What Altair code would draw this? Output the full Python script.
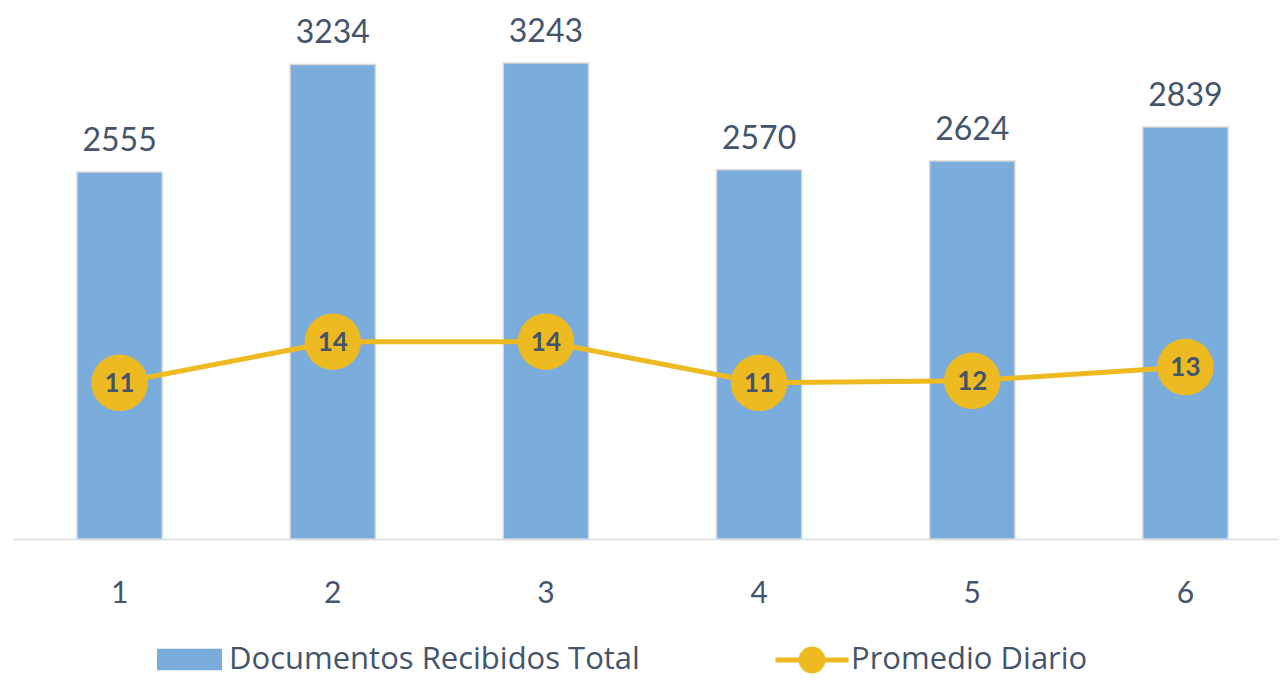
import altair as alt
import pandas as pd

# ---- data ----
meses = [1, 2, 3, 4, 5, 6]
documentos = [2555, 3234, 3243, 2570, 2624, 2839]
promedio = [11.4, 14.4, 14.4, 11.4, 11.55, 12.55]

SERIE_BAR = "Documentos Recibidos Total"
SERIE_LINE = "Promedio Diario"

BLUE = "#7AADDC"
GOLD = "#EEBA22"
TEXT = "#44546A"
FONT = "Lato"
LEG_FONT = "Open Sans"

df = pd.DataFrame({
    "mes": meses,
    "docs": documentos,
    "prom": promedio,
    "s1": [SERIE_BAR] * len(meses),
    "s2": [SERIE_LINE] * len(meses),
})

x = alt.X(
    "mes:O",
    scale=alt.Scale(type="band", paddingInner=0.6, paddingOuter=0.3, range=[0, 1279]),
    axis=alt.Axis(
        title=None, labelAngle=0, ticks=False, grid=False,
        domainColor="#D6DCE4", domainWidth=1.5,
        labelFont=FONT, labelFontSize=30, labelColor=TEXT, labelPadding=39,
    ),
)

y_bar = alt.Y("docs:Q", scale=alt.Scale(domain=[240, 3590], zero=False), axis=None)
y_line = alt.Y("prom:Q", scale=alt.Scale(domain=[0, 38.76], zero=False), axis=None)

bars = alt.Chart(df).mark_bar(stroke="#D9D9D9", strokeWidth=1.5).encode(
    x=x,
    y=y_bar,
    y2=alt.Y2Datum(240),
    fill=alt.Fill(
        "s1:N",
        scale=alt.Scale(domain=[SERIE_BAR], range=[BLUE]),
        legend=alt.Legend(
            title=None, orient="none", legendX=144, legendY=619,
            symbolType="M-1,-0.33L1,-0.33L1,0.33L-1,0.33Z",
            symbolSize=4225, symbolStrokeWidth=0, symbolOpacity=1,
            labelFont=LEG_FONT, labelFontSize=31, labelColor=TEXT, labelLimit=0,
            labelOffset=7, padding=0,
        ),
    ),
)

bar_text = alt.Chart(df).mark_text(
    font=FONT, fontSize=32, color=TEXT, baseline="alphabetic", dy=-21
).encode(x=x, y=y_bar, text=alt.Text("docs:Q", format="d"))

line = alt.Chart(df).mark_line(strokeWidth=5).encode(
    x=x,
    y=y_line,
    stroke=alt.Stroke(
        "s2:N",
        scale=alt.Scale(domain=[SERIE_LINE], range=[GOLD]),
        legend=alt.Legend(
            title=None, orient="none", legendX=760, legendY=613,
            symbolType="M-1,0L1,0M-0.3,0A0.3,0.3 0 1,1 0.3,0A0.3,0.3 0 1,1 -0.3,0Z",
            symbolSize=5329, symbolStrokeWidth=5, symbolFillColor=GOLD,
            symbolOpacity=1,
            labelFont=LEG_FONT, labelFontSize=31, labelColor=TEXT, labelLimit=0,
            labelOffset=0, padding=0,
        ),
    ),
)

points = alt.Chart(df).mark_point(
    filled=True, shape="circle", size=3200, color=GOLD, opacity=1
).encode(x=x, y=y_line)

point_text = alt.Chart(df).mark_text(
    font=FONT, fontSize=26, fontWeight="bold", color=TEXT, baseline="middle", dy=1
).encode(x=x, y=y_line, text=alt.Text("prom:Q", format=".0f"))

chart = (
    alt.layer(bars, bar_text, line, points, point_text)
    .resolve_scale(y="independent", fill="independent", stroke="independent")
    .properties(
        width=1265, height=531,
        background="white",
        autosize=alt.AutoSizeParams(type="none"),
        padding={"left": 5, "top": 0, "right": 0, "bottom": 140},
    )
    .configure_view(stroke="transparent", strokeWidth=0)
)

chart.save("out.html", embed_options={"renderer": "svg", "actions": False})
